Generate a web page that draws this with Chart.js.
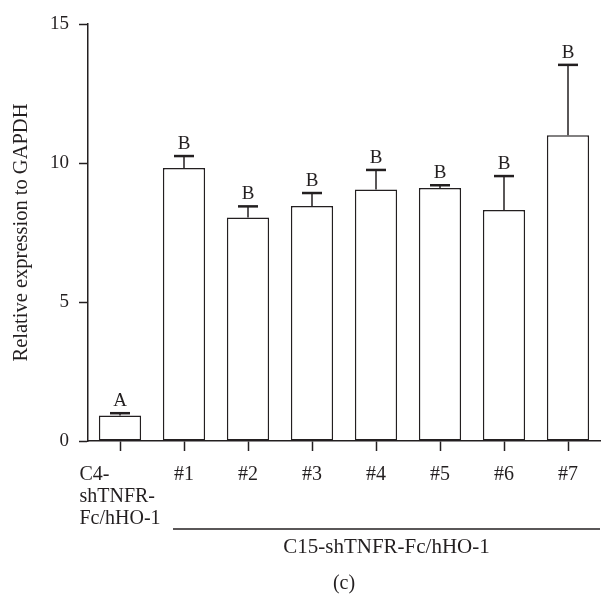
<!DOCTYPE html>
<html>
<head>
<meta charset="utf-8">
<script src="https://cdn.jsdelivr.net/npm/chart.js@4.4.0/dist/chart.umd.min.js"></script>
<style>
  html, body { margin: 0; padding: 0; background: #fff; }
  #wrap { width: 603px; height: 601px; position: relative; }
</style>
</head>
<body>
<div id="wrap"><canvas id="chart"></canvas></div>
<script>
/* Values */
var CATEGORIES = [['C4-', 'shTNFR-', 'Fc/hHO-1'], '#1', '#2', '#3', '#4', '#5', '#6', '#7'];
var MEANS = [0.92, 9.82, 8.04, 8.45, 9.05, 9.10, 8.31, 11.0];
var ERRORS = [0.08, 0.43, 0.40, 0.47, 0.70, 0.10, 1.22, 2.53];
var LETTERS = ['A', 'B', 'B', 'B', 'B', 'B', 'B', 'B'];
var Y_TICKS = [0, 5, 10, 15];
var Y_TITLE = 'Relative expression to GAPDH';
var GROUP_LABEL = 'C15-shTNFR-Fc/hHO-1';
var PANEL_LABEL = '(c)';

var INK = '#231f20';
var FAMILY = "'Liberation Serif', 'Times New Roman', serif";
var FONT = '19px ' + FAMILY;
var LABEL_FONT = '20px ' + FAMILY;
var GROUP_FONT = '21px ' + FAMILY;

Chart.defaults.font.family = FAMILY;
Chart.defaults.font.size = 19;
Chart.defaults.color = INK;

/* Error bars, significance letters, x labels and group bracket */
var annotate = {
  id: 'annotate',
  afterDatasetsDraw: function(chart) {
    var ctx = chart.ctx;
    var xs = chart.scales.x;
    var ys = chart.scales.y;
    var area = chart.chartArea;
    var meta = chart.getDatasetMeta(0);

    ctx.save();
    ctx.strokeStyle = INK;
    ctx.fillStyle = INK;
    ctx.font = FONT;
    ctx.textAlign = 'center';
    ctx.textBaseline = 'alphabetic';

    meta.data.forEach(function(bar, i) {
      var top = ys.getPixelForValue(MEANS[i]);
      var cap = ys.getPixelForValue(MEANS[i] + ERRORS[i]);
      ctx.lineWidth = 1.5;
      ctx.beginPath();
      ctx.moveTo(bar.x, top);
      ctx.lineTo(bar.x, cap);
      ctx.stroke();
      ctx.lineWidth = 2.5;
      ctx.beginPath();
      ctx.moveTo(bar.x - 10, cap);
      ctx.lineTo(bar.x + 10, cap);
      ctx.stroke();
      ctx.fillText(LETTERS[i], bar.x, cap - 7);
    });

    /* category labels: multi-line block centred on tick, lines left aligned */
    ctx.font = LABEL_FONT;
    CATEGORIES.forEach(function(label, i) {
      var px = xs.getPixelForValue(i);
      var lines = Array.isArray(label) ? label : [label];
      var maxW = Math.max.apply(null, lines.map(function(l) { return ctx.measureText(l).width; }));
      lines.forEach(function(line, k) {
        var by = xs.top + 39 + k * 22;
        if (lines.length > 1) {
          ctx.textAlign = 'left';
          ctx.fillText(line, px - maxW / 2, by);
        } else {
          ctx.textAlign = 'center';
          ctx.fillText(line, px, by);
        }
      });
    });

    /* bracket line under the C15 clones */
    var x0 = xs.getPixelForValue(1) - 11;
    var x1 = area.right;
    var ly = xs.top + 88;
    ctx.lineWidth = 1.5;
    ctx.beginPath();
    ctx.moveTo(x0, ly);
    ctx.lineTo(x1, ly);
    ctx.stroke();
    ctx.textAlign = 'center';
    ctx.font = GROUP_FONT;
    ctx.fillText(GROUP_LABEL, (x0 + x1) / 2, xs.top + 112);
    ctx.font = LABEL_FONT;
    ctx.fillText(PANEL_LABEL, (area.left + area.right) / 2, xs.top + 148);
    ctx.restore();
  }
};

new Chart(document.getElementById('chart'), {
  type: 'bar',
  data: {
    labels: CATEGORIES,
    datasets: [{
      data: MEANS,
      backgroundColor: '#ffffff',
      borderColor: INK,
      borderWidth: 1.5,
      borderSkipped: false,
      barPercentage: 0.66,
      categoryPercentage: 1
    }]
  },
  options: {
    responsive: true,
    maintainAspectRatio: false,
    animation: false,
    layout: { padding: { top: 24, right: 3, bottom: 0, left: 0 } },
    plugins: {
      legend: { display: false },
      tooltip: { enabled: false }
    },
    scales: {
      x: {
        grid: { display: true, drawOnChartArea: false, offset: false, tickLength: 10, tickColor: INK, tickWidth: 1.5 },
        border: { color: INK, width: 1.5 },
        ticks: { display: false },
        afterFit: function(s) { s.height = 160; }
      },
      y: {
        min: 0,
        max: 15,
        afterBuildTicks: function(s) { s.ticks = Y_TICKS.map(function(v) { return { value: v }; }); },
        grid: { drawOnChartArea: false, tickLength: 9, tickColor: INK, tickWidth: 1.5 },
        border: { color: INK, width: 1.5 },
        ticks: { color: INK, font: { size: 19 }, padding: 10 },
        title: { display: true, text: Y_TITLE, color: INK, font: { size: 20.5 }, padding: { top: 9, bottom: 0 } },
        afterFit: function(s) { s.width = 88; }
      }
    }
  },
  plugins: [annotate]
});
</script>
</body>
</html>
